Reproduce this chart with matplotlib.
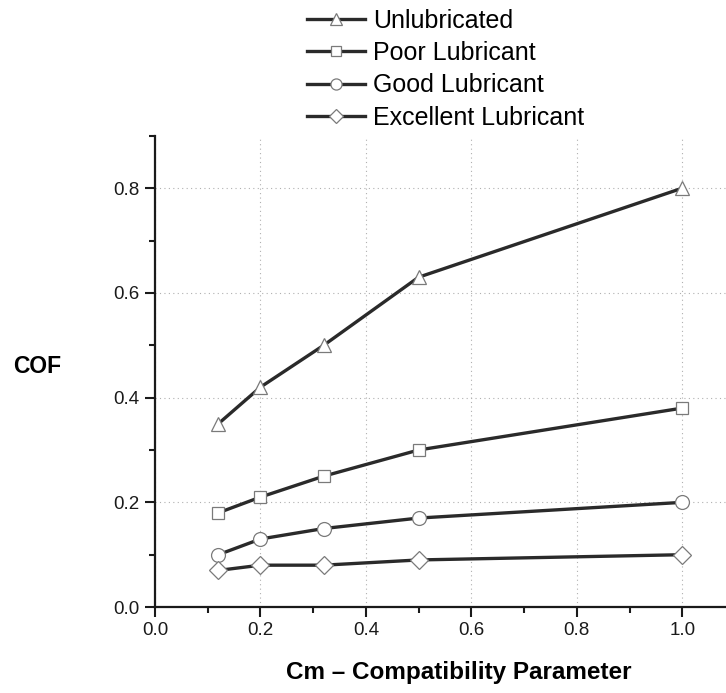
import numpy as np
import matplotlib
matplotlib.use("Agg")
import matplotlib.pyplot as plt
from matplotlib.ticker import MultipleLocator, FormatStrFormatter

plt.rcParams["font.family"] = ["Liberation Sans", "DejaVu Sans"]

# compatibility parameter values
cm = [0.12, 0.2, 0.32, 0.5, 1.0]

# friction coefficient per lubrication regime
cof_unlubricated = [0.35, 0.42, 0.50, 0.63, 0.80]
cof_poor = [0.18, 0.21, 0.25, 0.30, 0.38]
cof_good = [0.10, 0.13, 0.15, 0.17, 0.20]
cof_excellent = [0.07, 0.08, 0.08, 0.09, 0.10]

labels = ["Unlubricated", "Poor Lubricant", "Good Lubricant", "Excellent Lubricant"]
markers = ["^", "s", "o", "D"]
msizes = [10, 9, 10, 9]

fig = plt.figure(figsize=(7.26, 6.93), dpi=100)
ax = fig.add_axes([0.2135, 0.124, 0.7865, 0.68])

series = [cof_unlubricated, cof_poor, cof_good, cof_excellent]
for vals, lab, mk, ms in zip(series, labels, markers, msizes):
    ax.plot(cm, vals, color="#2a2a2a", lw=2.4, marker=mk, ms=ms,
            mfc="white", mec="#7a7a7a", mew=0.9, label=lab, zorder=3)

ax.set_xlim(0, 1.083)
ax.set_ylim(0, 0.9)
ax.xaxis.set_major_locator(MultipleLocator(0.2))
ax.xaxis.set_minor_locator(MultipleLocator(0.1))
ax.yaxis.set_major_locator(MultipleLocator(0.2))
ax.yaxis.set_minor_locator(MultipleLocator(0.1))
ax.xaxis.set_major_formatter(FormatStrFormatter("%.1f"))
ax.yaxis.set_major_formatter(FormatStrFormatter("%.1f"))

for s in ["top", "right"]:
    ax.spines[s].set_visible(False)
for s in ["left", "bottom"]:
    ax.spines[s].set_linewidth(1.6)
    ax.spines[s].set_color("#1a1a1a")

ax.tick_params(which="major", direction="out", length=7, width=1.5,
               labelsize=13.5, colors="#1a1a1a", pad=4)
ax.tick_params(which="minor", direction="out", length=4, width=1.5, colors="#1a1a1a")

ax.grid(True, which="major", linestyle=(0, (1, 3)), color="#b0b0b0", lw=0.8)
ax.set_axisbelow(True)

ax.set_xlabel("Cm \u2013 Compatibility Parameter", fontsize=17.5, fontweight="bold",
              va="center", ha="center")
ax.xaxis.set_label_coords(0.532, -0.138)
ax.set_ylabel("COF", fontsize=16.5, fontweight="bold", rotation=0, va="center", ha="center")
ax.yaxis.set_label_coords(-0.207, 0.51)

fig.legend(loc="upper left", bbox_to_anchor=(0.413, 0.998), frameon=False,
           fontsize=18, handlelength=2.3, handletextpad=0.32, labelspacing=0.33,
           borderaxespad=0.1, borderpad=0.2, markerscale=0.8)

fig.savefig("out.png", dpi=100)
